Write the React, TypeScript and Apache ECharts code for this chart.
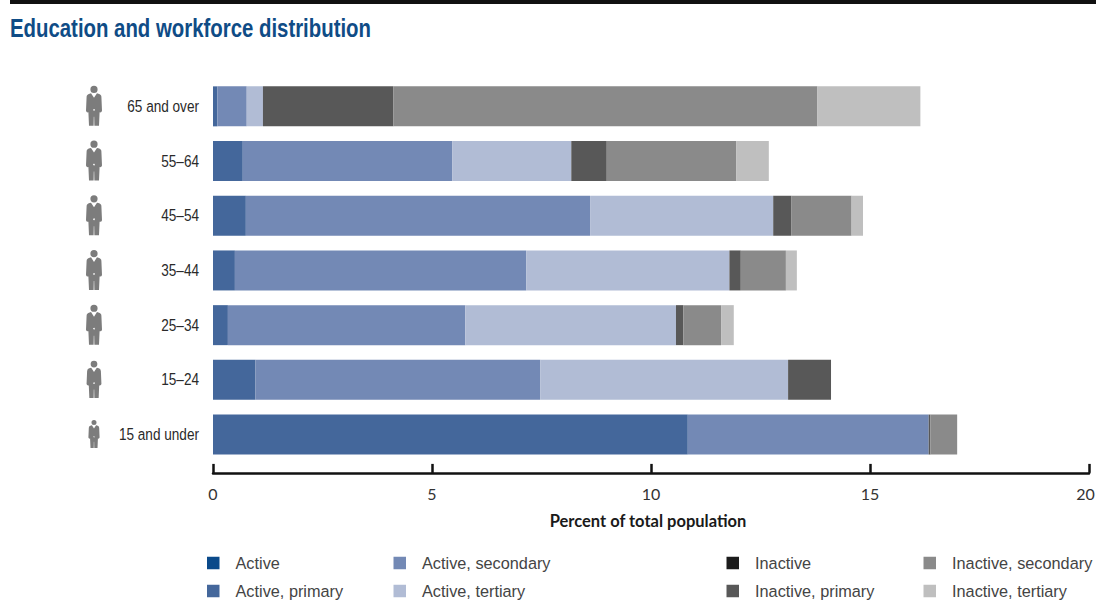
import React, { useEffect, useRef } from "react";
import * as echarts from "echarts";

const categories = ["65 and over", "55–64", "45–54", "35–44", "25–34", "15–24", "15 and under"];
const xTicks = [0, 5, 10, 15, 20];

const active = [0, 0, 0, 0, 0, 0, 0];
const activePrimary = [0.1, 0.68, 0.75, 0.5, 0.34, 0.97, 10.84];
const activeSecondary = [0.67, 4.78, 7.86, 6.65, 5.42, 6.5, 5.5];
const activeTertiary = [0.37, 2.72, 4.18, 4.64, 4.81, 5.66, 0];
const inactive = [0, 0, 0, 0, 0, 0, 0];
const inactivePrimary = [2.98, 0.81, 0.41, 0.26, 0.17, 0.98, 0.04];
const inactiveSecondary = [9.68, 2.96, 1.38, 1.03, 0.86, 0, 0.61];
const inactiveTertiary = [2.35, 0.74, 0.26, 0.25, 0.29, 0, 0];

const seriesNames = [
  "Active",
  "Active, primary",
  "Active, secondary",
  "Active, tertiary",
  "Inactive",
  "Inactive, primary",
  "Inactive, secondary",
  "Inactive, tertiary",
];
const seriesValues = [
  active,
  activePrimary,
  activeSecondary,
  activeTertiary,
  inactive,
  inactivePrimary,
  inactiveSecondary,
  inactiveTertiary,
];
const seriesColors = ["#0b4a8a", "#44679b", "#7389b5", "#b1bcd5", "#1c1c1c", "#585858", "#8a8a8a", "#bfbfbf"];

const legendColumns = [
  { left: 207, names: ["Active", "Active, primary"] },
  { left: 393.5, names: ["Active, secondary", "Active, tertiary"] },
  { left: 726.5, names: ["Inactive", "Inactive, primary"] },
  { left: 923.5, names: ["Inactive, secondary", "Inactive, tertiary"] },
];

const iconScales = [1, 1, 1, 1, 1, 0.93, 0.7];

echarts.graphic.registerShape(
  "personIcon",
  echarts.graphic.extendPath(
    "M4.4 3.6a3.6 3.6 0 1 0 7.2 0a3.6 3.6 0 1 0 -7.2 0z" +
      "M0.6 11Q0.6 8.6 3.6 7.8L5 7.4L8 12L11 7.4L12.4 7.8Q15.4 8.6 15.4 11L16 25Q15.5 27 13.6 26.5L13 40L8.4 40L8.2 31L7.8 31L7.6 40L3 40L2.4 26.5Q0.5 27 0 25Z",
    {}
  )
);

const FONT = "'Liberation Sans', Arial, sans-serif";
const NARROW = "Lato, 'Liberation Sans', Arial, sans-serif";

export default function App() {
  const ref = useRef<HTMLDivElement>(null);

  useEffect(() => {
    document.body.style.margin = "0";
    document.body.style.overflow = "hidden";
    const chart = echarts.init(ref.current!, undefined, { renderer: "svg" });

    const rowTop = 79;
    const rowStep = 54.7;

    chart.setOption({
      animation: false,
      backgroundColor: "#ffffff",
      grid: { left: 213, right: 7, top: rowTop, height: rowStep * 7, outerBoundsMode: "none" },
      xAxis: {
        type: "value",
        position: "bottom",
        min: 0,
        max: 20,
        interval: 5,
        offset: 11,
        splitLine: { show: false },
        axisLine: { show: true, lineStyle: { color: "#111111", width: 2.5 } },
        axisTick: { show: true, inside: true, length: 9, lineStyle: { color: "#111111", width: 2.5 } },
        axisLabel: {
          margin: 13,
          fontFamily: NARROW,
          fontSize: 16,
          color: "#333333",
          showMinLabel: true,
          showMaxLabel: true,
          hideOverlap: false,
          formatter: (v: number) =>
            v === xTicks[xTicks.length - 1] ? `{last|${v}}` : xTicks.includes(v) ? String(v) : "",
          rich: {
            last: { fontFamily: NARROW, fontSize: 16, color: "#333333", padding: [0, 7, 0, 0] },
          },
        },
        name: "Percent of total population",
        nameLocation: "middle",
        nameGap: 40,
        nameTextStyle: {
          fontFamily: NARROW,
          fontSize: 16.5,
          fontWeight: "bold",
          color: "#1a1a1a",
          padding: [0, 6, 0, 0],
        },
      },
      yAxis: {
        type: "category",
        inverse: true,
        data: categories,
        axisLine: { show: false },
        axisTick: { show: false },
        axisLabel: { show: false },
      },
      legend: legendColumns.map((c) => ({
        left: c.left,
        top: 554,
        height: 60,
        padding: 0,
        orient: "vertical",
        data: c.names,
        icon: "rect",
        itemWidth: 12.5,
        itemHeight: 12.5,
        itemGap: 10,
        selectedMode: false,
        textStyle: { fontFamily: FONT, fontSize: 16.3, color: "#444444", padding: [0, 0, 0, 11], lineHeight: 18 },
      })),
      series: seriesNames.map((name, i) => ({
        name,
        type: "bar",
        stack: "population",
        barWidth: 40,
        data: seriesValues[i],
        itemStyle: { color: seriesColors[i] },
      })),
    });

    const rowY = categories.map((c) => chart.convertToPixel({ yAxisIndex: 0 }, c) as number);

    const icons = categories.map((_, i) => {
      const s = iconScales[i];
      return {
        type: "group",
        x: 94 - 8 * s,
        y: rowY[i] - 0.5 - 20 * s,
        scaleX: s,
        scaleY: s,
        children: [
          { type: "personIcon", style: { fill: "#7c7c7c" } },
          { type: "circle", shape: { cx: 8, cy: 24, r: 0.8 }, style: { fill: "#ffffff" } },
        ],
      };
    });

    const rowLabels = categories.map((c, i) => ({
      type: "text",
      x: 199,
      y: rowY[i] - 0.5,
      scaleX: 0.8,
      style: {
        text: c,
        font: "17px " + FONT,
        fill: "#2a2a2a",
        textAlign: "right",
        textVerticalAlign: "middle",
      },
    }));

    chart.setOption({
      graphic: [
        { type: "rect", shape: { x: 10, y: 0, width: 1086, height: 4 }, style: { fill: "#111111" } },
        {
          type: "text",
          x: 10,
          y: 28,
          scaleX: 0.815,
          style: {
            text: "Education and workforce distribution",
            font: "bold 25px " + FONT,
            fill: "#0f4c86",
            textVerticalAlign: "middle",
          },
        },
        ...rowLabels,
        ...icons,
      ],
    });

    return () => chart.dispose();
  }, []);

  return <div ref={ref} style={{ width: 1096, height: 600 }} />;
}
